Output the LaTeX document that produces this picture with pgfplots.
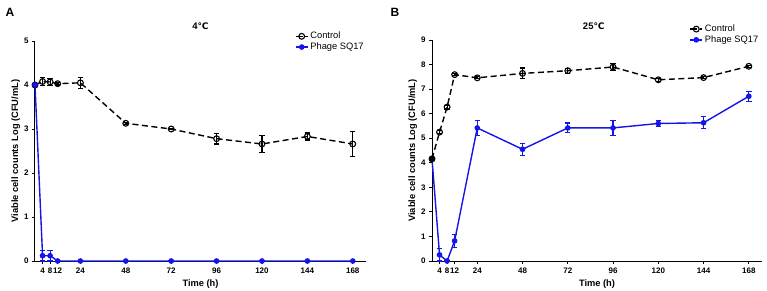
\documentclass[border=0pt]{standalone}
\usepackage{pgfplots}
\pgfplotsset{compat=1.18}
\usepackage{pgfplotstable}
\usepackage{fontspec}
\setmainfont{Liberation Sans}
\newfontfamily\dejavu{DejaVu Sans}
\definecolor{phage}{RGB}{20,20,235}

\pgfplotstableread{
x y e
0 4.00 0
4 4.08 0.10
8 4.07 0.08
12 4.03 0.03
24 4.05 0.12
48 3.13 0.02
72 3.00 0.02
96 2.78 0.12
120 2.66 0.20
144 2.83 0.08
168 2.66 0.28
}\ctrlA
\pgfplotstableread{
x y e
0 4.00 0
4 0.12 0.12
8 0.12 0.12
12 0 0
24 0 0
48 0 0
72 0 0
96 0 0
120 0 0
144 0 0
168 0 0
}\phageA
\pgfplotstableread{
x y e
0 4.16 0.05
4 5.25 0.05
8 6.27 0.08
12 7.59 0.04
24 7.46 0.04
48 7.64 0.22
72 7.75 0.10
96 7.90 0.14
120 7.38 0.06
144 7.47 0.04
168 7.93 0.05
}\ctrlB
\pgfplotstableread{
x y e
0 4.16 0
4 0.25 0.25
8 0 0
12 0.82 0.27
24 5.42 0.30
48 4.55 0.25
72 5.42 0.20
96 5.42 0.32
120 5.60 0.12
144 5.63 0.25
168 6.71 0.20
}\phageB

\pgfplotsset{prism/.style={
  scale only axis,
  anchor=south west,
  axis x line*=bottom, axis y line*=left,
  axis line style={line width=1pt,-},
  every tick/.style={black, line width=0.9pt},
  major tick length=3pt, tick align=outside,
  xmin=0, xmax=175,
  xtick={4,8,12,24,48,72,96,120,144,168},
  ticklabel style={font=\fontsize{8}{9}\selectfont\bfseries},
  /pgf/number format/assume math mode=true,
  label style={font=\fontsize{9.3}{10}\selectfont\bfseries},
  ylabel shift=-3pt,
  title style={font=\fontsize{9.5}{10}\selectfont\bfseries, anchor=center},
  xlabel={Time (h)},
  ylabel={Viable cell counts Log (CFU/mL)},
  clip=false,
  legend style={draw=none, fill=none, font=\fontsize{9.3}{10}\selectfont, inner sep=0pt, row sep=-1.5pt, anchor=north west},
  legend cell align=left,
  legend image code/.code={\draw[mark repeat=2,mark phase=2] plot coordinates {(0cm,0cm) (0.21cm,0cm) (0.42cm,0cm)};},
  ctrl/.style={black, line width=1.4pt, dash pattern=on 6pt off 3.5pt, mark=o, mark size=2.9pt, mark options={solid, fill=white, line width=1.1pt},
    error bars/y dir=both, error bars/y explicit, error bars/error mark=-,
    error bars/error mark options={rotate=90, mark size=2.7pt, line width=1.1pt, solid},
    error bars/error bar style={solid, line width=1.1pt}},
  phg/.style={phage, line width=1.4pt, mark=*, mark size=2.1pt, mark options={solid},
    error bars/y dir=both, error bars/y explicit, error bars/error mark=-,
    error bars/error mark options={rotate=90, mark size=2.7pt, line width=1.1pt, phage},
    error bars/error bar style={line width=1.1pt, phage}},
}}

\begin{document}
\begin{tikzpicture}
\useasboundingbox (0,0) rectangle (767pt,290pt);
\node[font=\fontsize{12}{13}\selectfont\bfseries] at (10pt,278pt) {A};
\node[font=\fontsize{12}{13}\selectfont\bfseries] at (395pt,278pt) {B};

\begin{axis}[prism, at={(35pt,29pt)}, width=331pt, height=220pt,
  ymin=0, ymax=5, ytick={0,1,2,3,4,5},
  title={4{\dejavu\fontsize{9}{10}\selectfont ℃}}, title style={at={(0.5,1.041)}},
  legend style={at={(0.785,1.05)}}]
\addplot[ctrl] table[x=x, y=y, y error=e] {\ctrlA};
\addlegendentry{Control}
\addplot[phg] table[x=x, y=y, y error=e] {\phageA};
\addlegendentry{Phage SQ17}
\end{axis}

\begin{axis}[prism, at={(432pt,29pt)}, width=330pt, height=221pt,
  ymin=0, ymax=9, ytick={0,1,2,3,4,5,6,7,8,9},
  title={25{\dejavu\fontsize{9}{10}\selectfont ℃}}, title style={at={(0.49,1.036)}},
  legend style={at={(0.78,1.078)}}]
\addplot[phg, forget plot] table[x=x, y=y, y error=e] {\phageB};
\addplot[ctrl] table[x=x, y=y, y error=e] {\ctrlB};
\addlegendentry{Control}
\addlegendimage{phg}
\addlegendentry{Phage SQ17}
\addplot[only marks, mark=*, mark size=2.8pt, black, forget plot] coordinates {(0,4.16)};
\end{axis}
\end{tikzpicture}
\end{document}
